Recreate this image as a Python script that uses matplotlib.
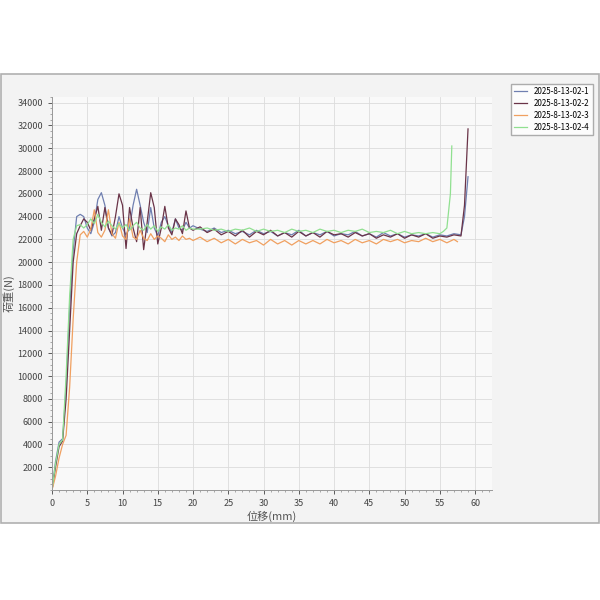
import matplotlib
matplotlib.use("Agg")
import matplotlib.pyplot as plt
from matplotlib.patches import Rectangle
from matplotlib.ticker import MultipleLocator

plt.rcParams['font.family'] = ['Noto Sans CJK SC', 'DejaVu Sans']

names = ["2025-8-13-02-1", "2025-8-13-02-2", "2025-8-13-02-3", "2025-8-13-02-4"]
colors = ["#6f7fb0", "#6a3448", "#f0a060", "#90e090"]

x1 = [0, 0.5, 1, 1.5, 2, 2.5, 3, 3.5, 4, 4.5, 5, 5.5, 6, 6.5, 7, 7.5, 8, 8.5, 9, 9.5, 10, 10.5, 11, 11.5, 12, 12.5, 13, 13.5, 14, 14.5, 15, 15.5, 16, 16.5, 17, 17.5, 18, 18.5, 19, 19.5, 20,
      21, 22, 23, 24, 25, 26, 27, 28, 29, 30, 31, 32, 33, 34, 35, 36, 37, 38, 39, 40, 41, 42, 43, 44, 45, 46, 47, 48, 49, 50, 51, 52, 53, 54, 55, 56, 57, 58, 58.5, 59]
y1 = [0, 2500, 4200, 4500, 9000, 16000, 21000, 24000, 24200, 24000, 23000, 22500, 23500, 25500, 26100, 25000, 23000, 22300, 22600, 24000, 23000, 22400, 23000, 25000, 26400, 25000, 23500, 22600, 24800, 23000, 22300, 23500, 24000, 23200, 22600, 23800, 23000, 22800, 23500, 23000, 23200,
      22900, 22700, 23000, 22600, 22800, 22500, 22700, 22400, 22800, 22500, 22700, 22300, 22600, 22400, 22800, 22300, 22600, 22400, 22700, 22300, 22500, 22400, 22700, 22300, 22500, 22200, 22600, 22300, 22500, 22200, 22400, 22300, 22500, 22200, 22400, 22300, 22500, 22400, 24000, 27500]

x2 = [0, 0.5, 1, 1.5, 2, 2.5, 3, 3.5, 4, 4.5, 5, 5.5, 6, 6.5, 7, 7.5, 8, 8.5, 9, 9.5, 10, 10.5, 11, 11.5, 12, 12.5, 13, 13.5, 14, 14.5, 15, 15.5, 16, 16.5, 17, 17.5, 18, 18.5, 19, 19.5, 20,
      21, 22, 23, 24, 25, 26, 27, 28, 29, 30, 31, 32, 33, 34, 35, 36, 37, 38, 39, 40, 41, 42, 43, 44, 45, 46, 47, 48, 49, 50, 51, 52, 53, 54, 55, 56, 57, 58, 58.5, 59]
y2 = [0, 2000, 3800, 4300, 8000, 14000, 20000, 22500, 23200, 23800, 23500, 22800, 23800, 24900, 22800, 24800, 23000, 22400, 24000, 26000, 25000, 21200, 24800, 23000, 21800, 24800, 21100, 23500, 26100, 24800, 21600, 23000, 24900, 23000, 22400, 23800, 23300, 22500, 24500, 23000, 22800,
      23100, 22600, 22900, 22400, 22700, 22300, 22800, 22200, 22700, 22400, 22800, 22300, 22600, 22200, 22700, 22300, 22600, 22200, 22700, 22400, 22500, 22200, 22600, 22300, 22500, 22100, 22400, 22200, 22500, 22100, 22400, 22200, 22500, 22100, 22300, 22200, 22400, 22300, 25000, 31700]

x3 = [0, 0.5, 1, 1.5, 2, 2.5, 3, 3.5, 4, 4.5, 5, 5.5, 6, 6.5, 7, 7.5, 8, 8.5, 9, 9.5, 10, 10.5, 11, 11.5, 12, 12.5, 13, 13.5, 14, 14.5, 15, 15.5, 16, 16.5, 17, 17.5, 18, 18.5, 19, 19.5, 20,
      21, 22, 23, 24, 25, 26, 27, 28, 29, 30, 31, 32, 33, 34, 35, 36, 37, 38, 39, 40, 41, 42, 43, 44, 45, 46, 47, 48, 49, 50, 51, 52, 53, 54, 55, 56, 57, 57.5]
y3 = [0, 1200, 2800, 4000, 4800, 9000, 15000, 20000, 22400, 22700, 22200, 22900, 24600, 22600, 22200, 22800, 24600, 22500, 22100, 23500, 22300, 22000, 23800, 22200, 22000, 22800, 22100, 21900, 22500, 22000, 22300, 22100, 21800, 22400, 22000, 22200, 21900, 22300, 22000, 22100, 21900,
      22200, 21800, 22100, 21700, 22000, 21600, 22000, 21700, 21900, 21500, 22000, 21600, 21900, 21500, 21900, 21600, 21900, 21600, 22000, 21700, 21900, 21600, 22000, 21700, 21900, 21600, 22000, 21800, 22000, 21700, 21900, 21800, 22100, 21800, 22000, 21700, 22000, 21800]

x4 = [0, 0.5, 1, 1.5, 2, 2.5, 3, 3.5, 4, 4.5, 5, 5.5, 6, 6.5, 7, 7.5, 8, 8.5, 9, 9.5, 10, 10.5, 11, 11.5, 12, 12.5, 13, 13.5, 14, 14.5, 15, 15.5, 16, 16.5, 17, 17.5, 18, 18.5, 19, 19.5, 20,
      21, 22, 23, 24, 25, 26, 27, 28, 29, 30, 31, 32, 33, 34, 35, 36, 37, 38, 39, 40, 41, 42, 43, 44, 45, 46, 47, 48, 49, 50, 51, 52, 53, 54, 55, 55.5, 56, 56.5, 56.7]
y4 = [0, 2300, 4000, 4400, 10000, 17000, 22000, 23200, 23300, 23000, 23300, 23800, 23400, 24200, 23500, 23100, 23600, 23200, 22900, 23400, 23000, 23300, 22800, 23200, 23500, 23000, 22800, 23300, 22900, 23200, 22700, 23100, 22900, 23300, 22800, 23000, 22900, 23200, 22800, 23000, 22900,
      22900, 23000, 22800, 22900, 22700, 22900, 22800, 23000, 22700, 22900, 22700, 22800, 22600, 22900, 22700, 22800, 22600, 22900, 22700, 22800, 22600, 22800, 22700, 22900, 22600, 22700, 22600, 22800, 22500, 22700, 22500, 22600, 22500, 22600, 22500, 22700, 23000, 26000, 30200]

series = [(x1, y1), (x2, y2), (x3, y3), (x4, y4)]

fig = plt.figure(figsize=(6, 6), dpi=100)
fig.patch.set_facecolor("white")
frame = Rectangle((0.002, 1 - 523/600), 0.996, (523-74)/600, transform=fig.transFigure,
                  facecolor="#f3f3f3", edgecolor="#b0b0b0", linewidth=1.2, zorder=-10)
fig.add_artist(frame)
ax = fig.add_axes([52/600, 1 - 490/600, (492-52)/600, (490-97)/600])
ax.set_zorder(1)
ax.set_facecolor("#f9f9f9")
for (x, y), c, n in zip(series, colors, names):
    ax.plot(x, y, color=c, linewidth=0.9, label=n)
ax.set_xlim(0, 62.4)
ax.set_ylim(0, 34500)
ax.xaxis.set_major_locator(MultipleLocator(5))
ax.xaxis.set_minor_locator(MultipleLocator(1))
ax.yaxis.set_minor_locator(MultipleLocator(500))
ax.set_yticks(range(2000, 34001, 2000))
ax.grid(True, color="#dcdcdc", linewidth=0.6, linestyle="-")
ax.tick_params(labelsize=6.5, colors="#444444", length=3, width=0.6)
ax.tick_params(which="minor", length=1.5, width=0.5, colors="#888888")
for s in ["top", "right"]:
    ax.spines[s].set_visible(False)
for s in ["left", "bottom"]:
    ax.spines[s].set_color("#999999")
    ax.spines[s].set_linewidth(0.7)
ax.set_xlabel("位移(mm)", fontsize=8, color="#555555", labelpad=2)
ax.set_ylabel("荷重(N)", fontsize=8, color="#555555", labelpad=2)
leg = fig.legend(loc="upper left", bbox_to_anchor=(507/600, 1 - 80/600), fontsize=5.8, frameon=True,
                 fancybox=False, edgecolor="#999999", handlelength=1.6, borderpad=0.4, labelspacing=0.35)
leg.set_zorder(5)
fig.savefig("out.png", dpi=100)
